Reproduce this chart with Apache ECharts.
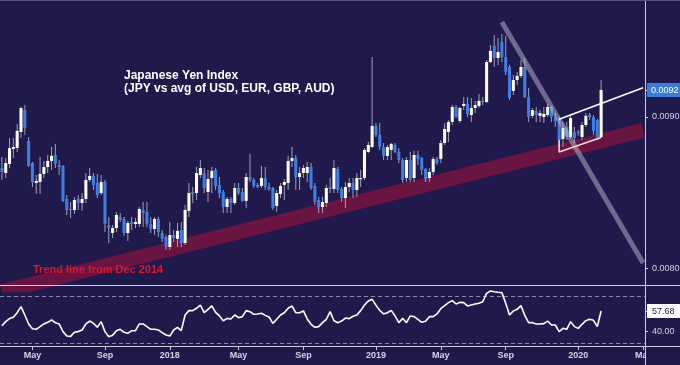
<!DOCTYPE html>
<html><head><meta charset="utf-8">
<script src="https://cdn.jsdelivr.net/npm/echarts@6/dist/echarts.min.js"></script>
<style>html,body{margin:0;padding:0;background:#201a4c;}#c{width:680px;height:365px;}</style>
</head><body><div id="c"></div>
<script>
// weekly candles, first week 2017-02-20
const startDate = '2017-02-20';
const weekCount = 169; // incl. empty weeks to the right
const open = [0.008663,0.008630,0.008690,0.008789,0.008795,0.008901,0.009046,0.008842,0.008696,0.008564,
0.008571,0.008624,0.008670,0.008710,0.008749,0.008683,0.008677,0.008459,0.008393,0.008386,
0.008459,0.008432,0.008459,0.008584,0.008611,0.008564,0.008498,0.008571,0.008287,0.008234,
0.008267,0.008340,0.008327,0.008234,0.008307,0.008294,0.008294,0.008386,0.008373,0.008294,
0.008261,0.008327,0.008234,0.008208,0.008142,0.008221,0.008195,0.008254,0.008168,0.008380,
0.008505,0.008498,0.008617,0.008630,0.008505,0.008597,0.008650,0.008551,0.008505,0.008406,
0.008459,0.008432,0.008531,0.008505,0.008446,0.008604,0.008584,0.008551,0.008545,0.008597,
0.008538,0.008531,0.008413,0.008492,0.008551,0.008564,0.008710,0.008729,0.008604,0.008630,
0.008630,0.008670,0.008545,0.008452,0.008406,0.008432,0.008538,0.008525,0.008657,0.008525,
0.008465,0.008538,0.008564,0.008518,0.008591,0.008597,0.008769,0.008802,0.008941,0.008881,
0.008802,0.008743,0.008782,0.008815,0.008769,0.008716,0.008597,0.008716,0.008597,0.008749,
0.008729,0.008657,0.008597,0.008637,0.008723,0.008723,0.008828,0.008901,0.008967,0.009066,
0.008974,0.009073,0.009086,0.009013,0.009059,0.009073,0.009106,0.009099,0.009363,0.009469,
0.009389,0.009495,0.009396,0.009330,0.009172,0.009244,0.009271,0.009330,0.009132,0.009007,
0.009040,0.009007,0.009000,0.009013,0.009066,0.009000,0.008987,0.008855,0.008934,0.008868,
0.008901,0.008901,0.008868,0.008947,0.009013,0.009000,0.008980,0.008868];
const close = [0.008637,0.008696,0.008795,0.008802,0.008908,0.009059,0.008927,0.008677,0.008571,0.008578,
0.008624,0.008670,0.008710,0.008743,0.008690,0.008670,0.008446,0.008386,0.008386,0.008452,
0.008432,0.008459,0.008584,0.008611,0.008551,0.008485,0.008571,0.008294,0.008267,0.008267,
0.008353,0.008320,0.008234,0.008300,0.008294,0.008307,0.008393,0.008366,0.008294,0.008261,
0.008327,0.008241,0.008195,0.008142,0.008221,0.008201,0.008248,0.008168,0.008386,0.008498,
0.008492,0.008630,0.008663,0.008531,0.008591,0.008644,0.008545,0.008498,0.008406,0.008459,
0.008432,0.008531,0.008498,0.008446,0.008604,0.008584,0.008545,0.008538,0.008597,0.008538,
0.008525,0.008399,0.008498,0.008545,0.008571,0.008710,0.008729,0.008604,0.008630,0.008663,
0.008670,0.008531,0.008439,0.008406,0.008439,0.008531,0.008525,0.008663,0.008518,0.008465,
0.008538,0.008564,0.008518,0.008597,0.008597,0.008782,0.008815,0.008941,0.008881,0.008802,
0.008743,0.008802,0.008822,0.008769,0.008716,0.008584,0.008716,0.008584,0.008749,0.008723,
0.008650,0.008591,0.008637,0.008723,0.008696,0.008828,0.008921,0.008967,0.009066,0.009000,
0.009059,0.009086,0.009020,0.009059,0.009079,0.009106,0.009099,0.009363,0.009436,0.009389,
0.009429,0.009396,0.009297,0.009125,0.009244,0.009271,0.009330,0.009132,0.009000,0.009046,
0.009013,0.009026,0.009020,0.009066,0.009000,0.008974,0.008848,0.008927,0.008868,0.008993,
0.008861,0.008894,0.008947,0.009007,0.009000,0.008908,0.008868,0.009178];
const low = [0.008584,0.008597,0.008663,0.008729,0.008769,0.008861,0.008881,0.008670,0.008538,0.008492,
0.008492,0.008597,0.008630,0.008650,0.008663,0.008617,0.008439,0.008353,0.008333,0.008360,
0.008386,0.008380,0.008432,0.008571,0.008518,0.008465,0.008485,0.008241,0.008168,0.008201,
0.008241,0.008307,0.008215,0.008182,0.008254,0.008267,0.008274,0.008274,0.008274,0.008234,
0.008221,0.008208,0.008175,0.008122,0.008122,0.008175,0.008142,0.008142,0.008155,0.008340,
0.008432,0.008452,0.008597,0.008498,0.008439,0.008498,0.008518,0.008465,0.008366,0.008366,
0.008366,0.008419,0.008485,0.008439,0.008399,0.008571,0.008531,0.008531,0.008531,0.008518,
0.008512,0.008386,0.008373,0.008465,0.008452,0.008518,0.008670,0.008518,0.008518,0.008597,
0.008571,0.008518,0.008419,0.008366,0.008366,0.008406,0.008498,0.008498,0.008498,0.008439,
0.008399,0.008505,0.008465,0.008472,0.008538,0.008584,0.008762,0.008795,0.008868,0.008782,
0.008716,0.008716,0.008716,0.008762,0.008696,0.008564,0.008571,0.008571,0.008571,0.008683,
0.008617,0.008571,0.008571,0.008617,0.008683,0.008696,0.008815,0.008835,0.008947,0.008993,
0.008960,0.009046,0.009000,0.008967,0.009026,0.009059,0.009079,0.009092,0.009356,0.009330,
0.009343,0.009363,0.009277,0.009112,0.009145,0.009211,0.009257,0.009125,0.008967,0.008993,
0.008967,0.008967,0.008960,0.009000,0.008967,0.008934,0.008802,0.008802,0.008848,0.008855,
0.008828,0.008875,0.008848,0.008934,0.008980,0.008881,0.008848,0.008861];
const high = [0.008736,0.008729,0.008861,0.008861,0.008954,0.009066,0.009079,0.008868,0.008703,0.008617,
0.008736,0.008710,0.008749,0.008802,0.008822,0.008716,0.008683,0.008485,0.008439,0.008472,
0.008485,0.008498,0.008630,0.008663,0.008630,0.008624,0.008617,0.008584,0.008340,0.008287,
0.008373,0.008366,0.008340,0.008314,0.008340,0.008333,0.008406,0.008439,0.008439,0.008340,
0.008340,0.008340,0.008254,0.008221,0.008307,0.008254,0.008300,0.008307,0.008419,0.008564,
0.008538,0.008670,0.008716,0.008663,0.008650,0.008670,0.008663,0.008604,0.008518,0.008472,
0.008472,0.008564,0.008564,0.008531,0.008630,0.008756,0.008597,0.008564,0.008677,0.008670,
0.008564,0.008538,0.008518,0.008564,0.008591,0.008743,0.008802,0.008749,0.008670,0.008683,
0.008703,0.008696,0.008564,0.008472,0.008472,0.008551,0.008597,0.008716,0.008670,0.008538,
0.008571,0.008597,0.008597,0.008630,0.008650,0.008795,0.008835,0.009396,0.008960,0.008960,
0.008828,0.008815,0.008828,0.008828,0.008795,0.008729,0.008736,0.008769,0.008776,0.008776,
0.008736,0.008663,0.008663,0.008736,0.008736,0.008848,0.008960,0.008980,0.009079,0.009079,
0.009066,0.009132,0.009132,0.009125,0.009106,0.009152,0.009132,0.009376,0.009475,0.009541,
0.009521,0.009548,0.009535,0.009343,0.009277,0.009297,0.009376,0.009389,0.009191,0.009059,
0.009066,0.009046,0.009066,0.009086,0.009073,0.009026,0.009000,0.008967,0.008967,0.009013,
0.008934,0.008914,0.008967,0.009026,0.009026,0.009013,0.008987,0.009244];
const rsi = [45.0,48.5,51.1,52.2,56.2,61.4,54.2,46.5,42.4,41.9,
44.2,46.5,47.9,49.9,47.6,46.5,39.9,36.1,35.8,39.3,
39.9,41.3,46.5,49.0,47.0,43.6,48.5,39.9,35.5,36.7,
40.7,41.9,39.3,38.4,40.7,40.7,46.5,46.5,44.2,41.9,
41.9,41.3,39.0,37.0,36.1,41.3,43.6,40.7,54.2,58.0,
58.0,60.0,62.8,56.2,59.1,62.0,56.5,53.4,49.3,51.3,
50.8,54.2,51.9,52.8,58.0,57.1,54.8,55.1,55.7,53.9,
52.5,47.0,50.5,54.2,56.2,60.0,62.0,56.2,56.2,57.7,
50.8,46.2,43.6,44.2,47.6,50.5,57.1,49.3,47.6,49.0,
51.6,51.1,53.1,54.2,58.0,62.8,66.3,67.7,62.6,58.2,
55.1,56.2,58.2,53.4,47.6,51.3,47.6,53.4,52.8,50.5,
47.9,48.8,52.8,52.8,55.1,59.7,62.3,64.9,66.6,63.7,
65.1,64.9,62.0,62.8,63.7,64.3,65.7,72.9,74.9,74.3,
73.8,73.5,64.3,54.2,57.7,59.1,62.3,53.9,47.6,47.6,
46.5,46.5,46.8,49.0,45.6,45.6,39.9,42.7,41.9,48.5,
44.2,42.7,46.2,49.3,50.5,49.6,44.2,57.68];
const rsiLevels = [70, 30];
const tickDates = ['2017-04-17','2017-08-28','2017-12-25','2018-04-30','2018-08-27','2019-01-07','2019-05-06','2019-09-02','2020-01-13','2020-05-11'];
const tickTexts = ['May','Sep','2018','May','Sep','2019','May','Sep','2020','Mar'];
// drawn trend lines [date, value]
const trendBand = [['2017-02-20', 0.0078483], ['2020-05-11', 0.0089116]];
const fallLine = [['2019-08-26', 0.009627], ['2020-05-11', 0.008036]];
const upperChannel = [['2019-12-09', 0.008985], ['2020-05-11', 0.009193]];
const lowerChannel = [['2019-12-09', 0.008848], ['2019-12-09', 0.008769], ['2020-02-24', 0.008865]];

const dates = [];
const t0 = Date.parse(startDate + 'T00:00:00Z');
for (let i = 0; i < weekCount; i++) dates.push(new Date(t0 + i * 7 * 86400000).toISOString().slice(0, 10));
const lastClose = close[close.length - 1];
const lastRsi = rsi[rsi.length - 1];
const candles = open.map((o, i) => [i, o, close[i], low[i], high[i]]);

const AX = '#cfcfe0';
const BG = '#201a4c';
const labelInterval = (idx, val) => tickDates.indexOf(val) >= 0;
const chart = echarts.init(document.getElementById('c'));
chart.setOption({
  animation: false,
  backgroundColor: BG,
  grid: [
    {left: 0, right: 35, top: 0, height: 285, containLabel: false, outerBoundsMode: 'none'},
    {left: 0, right: 35, top: 286, height: 60, containLabel: false, outerBoundsMode: 'none'}
  ],
  xAxis: [
    {type: 'category', gridIndex: 0, data: dates, boundaryGap: true, axisLine: {show: false}, axisTick: {show: false}, axisLabel: {show: false}, splitLine: {show: false}},
    {type: 'category', gridIndex: 1, data: dates, boundaryGap: true, axisLine: {show: false},
     axisTick: {show: true, interval: labelInterval, alignWithLabel: true, length: 4, lineStyle: {color: AX}},
     axisLabel: {interval: labelInterval, formatter: v => tickTexts[tickDates.indexOf(v)] || '', color: '#d4d4e4', fontSize: 9, fontWeight: 'bold', fontFamily: 'Liberation Sans', margin: 5},
     splitLine: {show: false}}
  ],
  yAxis: [
    {type: 'value', gridIndex: 0, position: 'right', min: 0.007891, max: 0.009772, scale: true,
     axisLine: {show: false}, splitLine: {show: false},
     axisTick: {show: true, customValues: [0.008, 0.009, lastClose], length: 3, lineStyle: {color: AX}},
     axisLabel: {customValues: [0.008, 0.009, lastClose], margin: 2, fontFamily: 'Liberation Sans', fontSize: 9,
       formatter: v => Math.abs(v - lastClose) < 1e-9 ? '{tag|' + v.toFixed(4) + '}' : '{n|' + v.toFixed(4) + '}',
       rich: {tag: {backgroundColor: '#3b7ddd', color: '#ffffff', padding: [3, 4, 2, 4], fontSize: 9, fontFamily: 'Liberation Sans'},
              n: {color: '#d4d4e4', padding: [0, 0, 0, 5], fontSize: 9, fontFamily: 'Liberation Sans'}}}},
    {type: 'value', gridIndex: 1, position: 'right', min: 27.5, max: 79.2,
     axisLine: {show: false}, splitLine: {show: false},
     axisTick: {show: true, customValues: [40, lastRsi], length: 3, lineStyle: {color: AX}},
     axisLabel: {customValues: [40, lastRsi], margin: 2, fontFamily: 'Liberation Sans', fontSize: 9,
       formatter: v => Math.abs(v - lastRsi) < 1e-9 ? '{tag|' + v.toFixed(2) + '}' : '{n|' + v.toFixed(2) + '}',
       rich: {tag: {backgroundColor: '#ffffff', color: '#201a4c', padding: [3, 6, 2, 5], fontSize: 9, fontFamily: 'Liberation Sans'},
              n: {color: '#d4d4e4', padding: [0, 0, 0, 5], fontSize: 9, fontFamily: 'Liberation Sans'}}}}
  ],
  series: [
    {type: 'line', name: 'trend band', xAxisIndex: 0, yAxisIndex: 0, data: trendBand, symbol: 'none', z: 1, clip: true,
     lineStyle: {width: 14.5, color: 'rgba(150,18,58,0.62)', cap: 'butt'}},
    {type: 'custom', name: 'JPY index', xAxisIndex: 0, yAxisIndex: 0, z: 3, clip: true,
     encode: {x: 0, y: [1, 2, 3, 4]}, data: candles,
     renderItem: function (params, api) {
       const i = api.value(0), o = api.value(1), c = api.value(2), l = api.value(3), h = api.value(4);
       const pO = api.coord([i, o]), pC = api.coord([i, c]), pL = api.coord([i, l]), pH = api.coord([i, h]);
       const w = api.size([1, 0])[0] * 0.8;
       const x = pO[0];
       const top = Math.min(pO[1], pC[1]), bot = Math.max(pO[1], pC[1]);
       return {type: 'group', children: [
         {type: 'line', shape: {x1: x, y1: pH[1], x2: x, y2: pL[1]}, style: {stroke: '#a09eba', lineWidth: 1}},
         {type: 'rect', shape: {x: x - w / 2, y: top, width: w, height: Math.max(bot - top, 1.2)}, style: {fill: c >= o ? '#ffffff' : '#3d7fe4'}}
       ]};
     }},
    {type: 'line', name: 'falling line', xAxisIndex: 0, yAxisIndex: 0, data: fallLine, symbol: 'none', z: 4,
     lineStyle: {width: 5, color: 'rgba(205,205,225,0.45)', cap: 'butt'}},
    {type: 'line', name: 'upper channel', xAxisIndex: 0, yAxisIndex: 0, data: upperChannel, symbol: 'none', z: 5,
     lineStyle: {width: 1.5, color: '#ffffff'}},
    {type: 'line', name: 'lower channel', xAxisIndex: 0, yAxisIndex: 0, data: lowerChannel, symbol: 'none', z: 5,
     lineStyle: {width: 1.5, color: '#f6d6dc'}},
    {type: 'line', name: 'RSI', xAxisIndex: 1, yAxisIndex: 1, data: rsi, symbol: 'none', z: 5,
     lineStyle: {width: 1.6, color: '#ffffff'},
     markLine: {silent: true, symbol: 'none', label: {show: false},
       lineStyle: {type: [4, 3], color: '#8a87a8', width: 1},
       data: rsiLevels.map(v => ({yAxis: v}))}}
  ],
  graphic: [
    {type: 'rect', shape: {x: 646, y: 348, width: 34, height: 17}, style: {fill: BG}, z: 100},
    {type: 'line', shape: {x1: 0, y1: 285.5, x2: 680, y2: 285.5}, style: {stroke: AX, lineWidth: 1}, z: 101},
    {type: 'line', shape: {x1: 0, y1: 346.5, x2: 680, y2: 346.5}, style: {stroke: AX, lineWidth: 1}, z: 101},
    {type: 'line', shape: {x1: 645.5, y1: 0, x2: 645.5, y2: 365}, style: {stroke: AX, lineWidth: 1}, z: 101},
    {type: 'line', shape: {x1: 0, y1: 0.5, x2: 680, y2: 0.5}, style: {stroke: '#55507c', lineWidth: 1}, z: 101},
    {type: 'text', left: 124, top: 69, z: 10,
     style: {text: 'Japanese Yen Index\n(JPY vs avg of USD, EUR, GBP, AUD)', fill: '#ffffff', font: 'bold 12px "Liberation Sans", Arial, sans-serif', lineHeight: 13}},
    {type: 'text', left: 33, top: 264, z: 10,
     style: {text: 'Trend line from Dec 2014', fill: '#e3142c', font: 'bold 11px "Liberation Sans", Arial, sans-serif'}}
  ]
});
</script></body></html>
